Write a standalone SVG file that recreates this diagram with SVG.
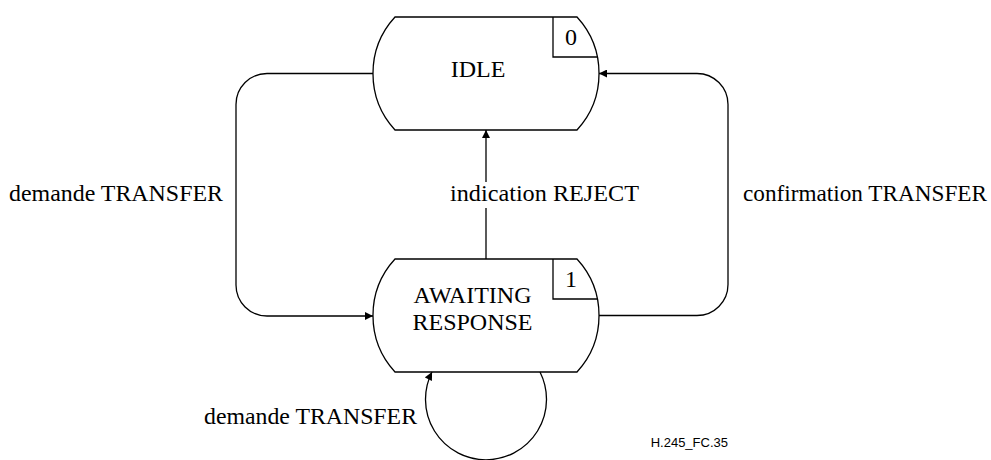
<svg xmlns="http://www.w3.org/2000/svg" width="991" height="460" viewBox="0 0 991 460">
<style>
.shape{fill:none;stroke:#000;stroke-width:1.3}
.conn{fill:none;stroke:#000;stroke-width:1.3}
.t{font-family:"Liberation Serif","Times New Roman",serif;font-size:24px;fill:#000}
.fig{font-family:"Liberation Sans",Arial,sans-serif;font-size:13px;fill:#000}
</style>
<defs>
<marker id="arr" viewBox="0 0 10 10" refX="10" refY="5" markerWidth="10" markerHeight="8" markerUnits="userSpaceOnUse" orient="auto">
<path d="M0,0 L10,5 L0,10 z" fill="#000"/>
</marker>
</defs>
<rect width="991" height="460" fill="#fff"/>
<g id="idle">
<path class="shape" d="M395,17 H577 A83.5,83.5 0 0 1 577,130 H395 A83.5,83.5 0 0 1 395,17 Z"/>
<path class="shape" d="M553,17 V57 H597.4"/>
<text class="t" x="571" y="45" text-anchor="middle">0</text>
<text class="t" x="478" y="77" text-anchor="middle">IDLE</text>
</g>
<g id="awaiting">
<path class="shape" d="M395,259 H577 A83.5,83.5 0 0 1 577,372 H395 A83.5,83.5 0 0 1 395,259 Z"/>
<path class="shape" d="M553,259 V299 H597.4"/>
<text class="t" x="571" y="287" text-anchor="middle">1</text>
<text class="t" x="472.5" y="303" text-anchor="middle">AWAITING</text>
<text class="t" x="472.5" y="330" text-anchor="middle">RESPONSE</text>
</g>
<g id="connectors">
<path class="conn" d="M373,73.5 H267 A31,31 0 0 0 236,104.5 V285 A31,31 0 0 0 267,316 H373" marker-end="url(#arr)"/>
<path class="conn" d="M599,315.5 H697 A31,31 0 0 0 728,284.5 V104.5 A31,31 0 0 0 697,73.5 H599" marker-end="url(#arr)"/>
<path class="conn" d="M486,259 V208"/>
<path class="conn" d="M486,182 V130" marker-end="url(#arr)"/>
<path class="conn" d="M540,372 A60.5,60.5 0 1 1 432,372" marker-end="url(#arr)"/>
</g>
<g id="labels">
<text class="t" x="9" y="201" textLength="214" lengthAdjust="spacingAndGlyphs">demande TRANSFER</text>
<text class="t" x="450" y="201" textLength="189" lengthAdjust="spacingAndGlyphs">indication REJECT</text>
<text class="t" x="743" y="201" style="font-size:23.2px" textLength="244" lengthAdjust="spacingAndGlyphs">confirmation TRANSFER</text>
<text class="t" x="204" y="424" textLength="213" lengthAdjust="spacingAndGlyphs">demande TRANSFER</text>
<text class="fig" x="728" y="447" text-anchor="end">H.245_FC.35</text>
</g>
</svg>
